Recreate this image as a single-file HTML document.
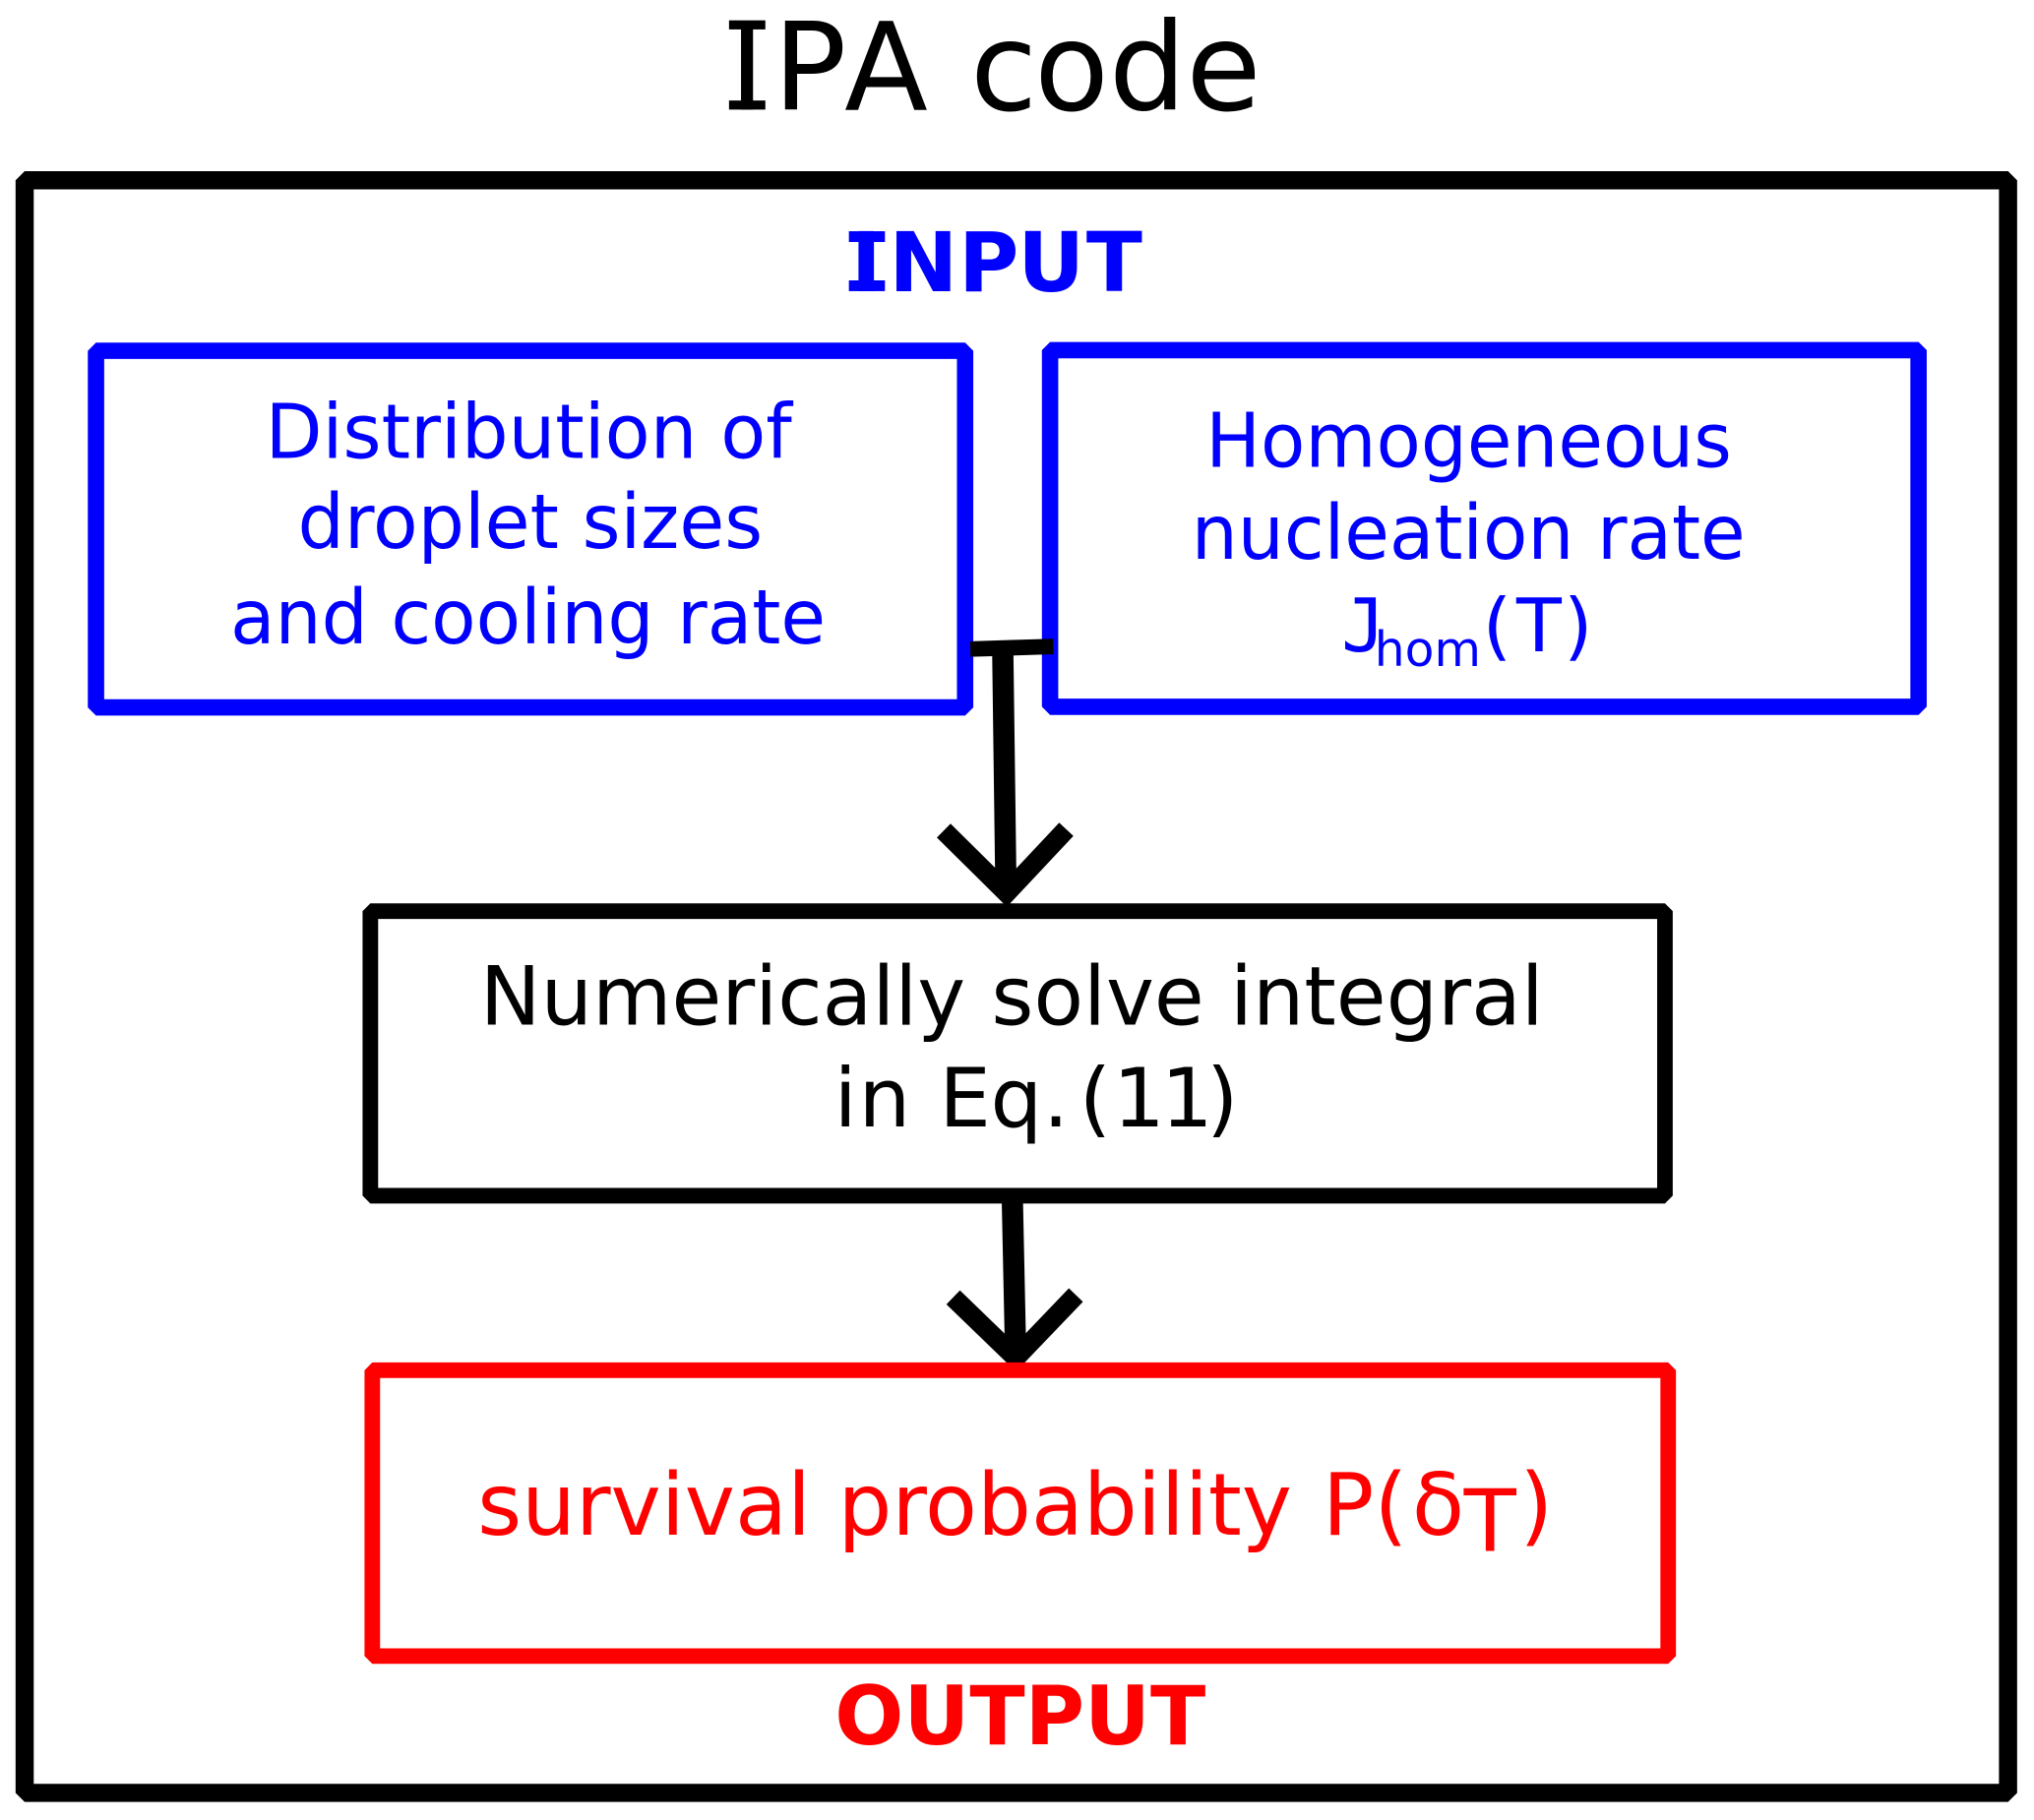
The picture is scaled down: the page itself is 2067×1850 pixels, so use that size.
<!DOCTYPE html>
<html><head><meta charset="utf-8"><style>html,body{margin:0;padding:0;background:#fff}svg{display:block}text{font-family:"DejaVu Sans","Liberation Sans",sans-serif}</style></head>
<body>
<svg width="2067" height="1850" viewBox="0 0 1568 1403.4" xmlns="http://www.w3.org/2000/svg">
<rect width="1568" height="1404" fill="#fff"/>
<text x="562 596 651 720 748 797.400 854.800 914.400" y="84.500" font-size="94">IPA code</text>
<rect x="562" y="15.700" width="28" height="7"/><rect x="562" y="77.500" width="28" height="7"/>
<g fill="none" stroke-linejoin="bevel">
<rect x="19" y="139" width="1529" height="1243.500" stroke="#000" stroke-width="14"/>
<rect x="74" y="270.500" width="670" height="275" stroke="#00f" stroke-width="12.600"/>
<rect x="809.500" y="270" width="669.500" height="275" stroke="#00f" stroke-width="12.600"/>
<g stroke="#000" stroke-linejoin="miter">
<path d="M748 500.500L812 498.500" stroke-width="12"/>
<path d="M773 500L775.500 688" stroke-width="16.400"/>
<path d="M727.500 640.500L776 688.500L822 639.500" stroke-width="15"/>
<path d="M780.400 925L783 1047" stroke-width="16.400"/>
<path d="M734.800 1000.400L783 1047L829.400 998.600" stroke-width="15"/>
</g>
<rect x="285.500" y="702.600" width="998" height="219.400" stroke="#000" stroke-width="12"/>
<rect x="287" y="1056.600" width="999" height="220.400" stroke="#f00" stroke-width="12"/>
</g>
<g fill="#00f">
<text x="656 685.300 739 784.600 837.400" y="224.500" font-size="63.400" font-weight="bold">INPUT</text>
<rect x="654.400" y="178.300" width="27.800" height="8.300"/><rect x="654.400" y="216.200" width="27.800" height="8.300"/>
</g>
<g fill="#00f" font-size="58">
<text x="204.500" y="353" textLength="406" lengthAdjust="spacingAndGlyphs">Distribution of</text>
<text x="229.500" y="422.500" textLength="358.500" lengthAdjust="spacingAndGlyphs">droplet sizes</text>
<text x="177.500" y="496" textLength="459" lengthAdjust="spacingAndGlyphs">and cooling rate</text>
<text x="929.500" y="360" textLength="405.500" lengthAdjust="spacingAndGlyphs">Homogeneous</text>
<text x="918.500" y="431" textLength="427" lengthAdjust="spacingAndGlyphs">nucleation rate</text>
<text x="1034" y="502" font-size="57" style="font-family:'DejaVu Sans Mono',monospace">J</text>
<text x="1059.600" y="513.400" font-size="37" textLength="82" lengthAdjust="spacingAndGlyphs">hom</text>
<text x="1143 1169 1205.500" y="502" font-size="57">(T)</text>
</g>
<g fill="#000" font-size="63">
<text x="370" y="790" textLength="820" lengthAdjust="spacingAndGlyphs">Numerically solve integral</text>
<text x="643 662 702 724 763.500 804 832 858 895 930" y="868.600">in Eq.(11)</text>
</g>
<g fill="#f00" font-size="66">
<text x="368" y="1183.500" textLength="628" lengthAdjust="spacingAndGlyphs">survival probability</text>
<text x="1019.500 1059.400" y="1183.500">P(</text>
<text x="1088.500" y="1183.500">δ</text>
<text x="1128.500" y="1196">T</text>
<text x="1171.500" y="1183.500">)</text>
</g>
<text x="643.500" y="1345" font-size="63" font-weight="bold" fill="#f00" textLength="286" lengthAdjust="spacingAndGlyphs">OUTPUT</text>
</svg>
</body></html>
